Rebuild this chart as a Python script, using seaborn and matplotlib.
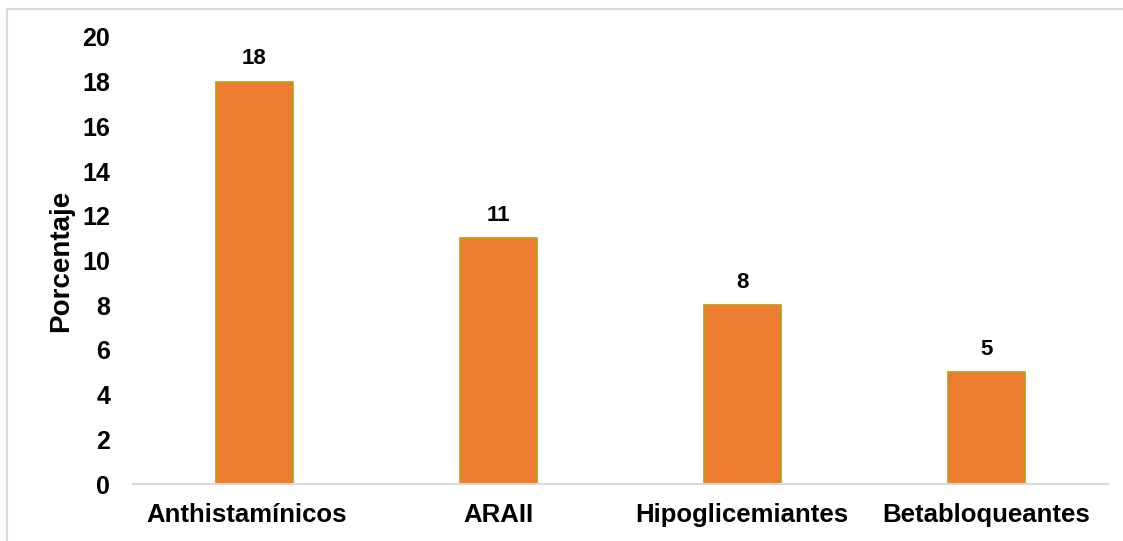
import matplotlib
matplotlib.use("Agg")
import matplotlib.pyplot as plt
import matplotlib.transforms as mtransforms
import seaborn as sns
import pandas as pd
from matplotlib.lines import Line2D

categorias = ["Anthistamínicos", "ARAII", "Hipoglicemiantes", "Betabloqueantes"]
porcentajes = [18, 11, 8, 5]
ticks_y = [0, 2, 4, 6, 8, 10, 12, 14, 16, 18, 20]

sns.set_theme(style="white")
plt.rcParams["font.family"] = ["Liberation Sans", "DejaVu Sans"]
plt.rcParams["text.color"] = "black"
plt.rcParams["xtick.color"] = "black"
plt.rcParams["ytick.color"] = "black"
plt.rcParams["axes.labelcolor"] = "black"

W, H, DPI = 1123, 541, 100
fig = plt.figure(figsize=(W / DPI, H / DPI), dpi=DPI)
ax_left, ax_right, ax_top, ax_bottom = 132.5, 1108, 37, 484
ax = fig.add_axes([ax_left / W, 1 - ax_bottom / H,
                   (ax_right - ax_left) / W, (ax_bottom - ax_top) / H])

df = pd.DataFrame({"categoria": categorias, "porcentaje": porcentajes})
sns.barplot(data=df, x="categoria", y="porcentaje", ax=ax, color="#ED7D31",
            width=0.316, edgecolor="#C49A0A", linewidth=1.2, saturation=1)

ax.set_ylim(0, 20)
ax.set_xlim(-0.5, len(categorias) - 0.5)
ax.set_yticks(ticks_y)
ax.set_yticklabels([str(t) for t in ticks_y], fontsize=18, fontweight="bold")
ax.tick_params(axis="y", length=0, pad=16)
ax.tick_params(axis="x", length=0, pad=14, labelsize=18.5)
xlabels = ax.get_xticklabels()
for lab in xlabels:
    lab.set_fontweight("bold")
# nudge the first category label slightly to the left
shift = mtransforms.ScaledTranslation(-8 / DPI, 0, fig.dpi_scale_trans)
xlabels[0].set_transform(xlabels[0].get_transform() + shift)

for s in ["top", "right", "left"]:
    ax.spines[s].set_visible(False)
ax.spines["bottom"].set_color("#D9D9D9")
ax.spines["bottom"].set_linewidth(1.5)

ax.set_xlabel("")
ax.set_ylabel("Porcentaje", fontsize=20, fontweight="bold")
ax.yaxis.set_label_coords((74 - ax_left) / (ax_right - ax_left), 0.5)

for i, v in enumerate(porcentajes):
    ax.annotate(str(v), (i, v), xytext=(0, 9), textcoords="offset points",
                ha="center", va="bottom", fontsize=16, fontweight="bold",
                color="black")

# Frame around the chart area
fig.add_artist(Line2D([7 / W, 7 / W], [0, 1 - 9 / H], transform=fig.transFigure,
                      color="#D9D9D9", linewidth=1.5))
fig.add_artist(Line2D([7 / W, 1.0], [1 - 9 / H, 1 - 9 / H], transform=fig.transFigure,
                      color="#D9D9D9", linewidth=1.5, solid_capstyle="butt"))

fig.savefig("out.png", dpi=DPI)
